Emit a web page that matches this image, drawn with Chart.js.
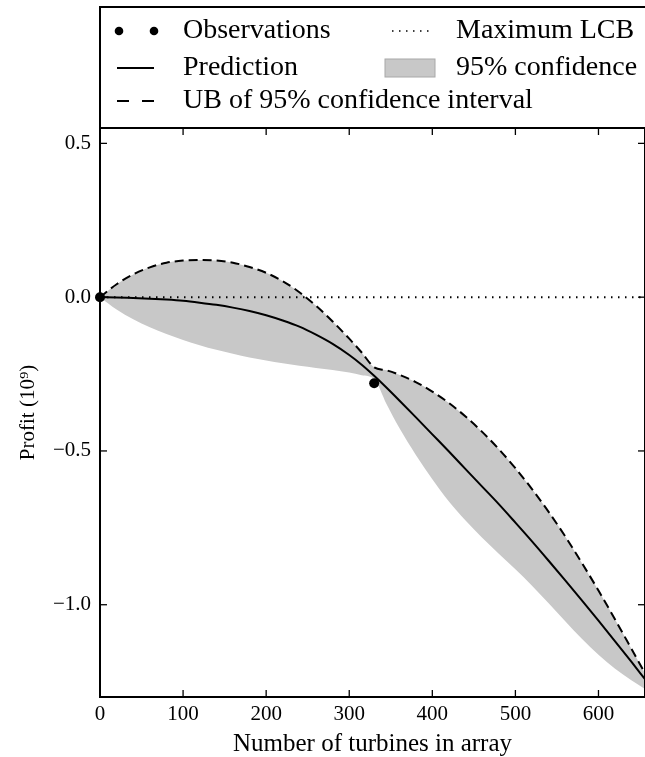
<!DOCTYPE html>
<html>
<head>
<meta charset="utf-8">
<script src="https://cdn.jsdelivr.net/npm/chart.js@4.4.0/dist/chart.umd.min.js"></script>
<style>
  html, body { margin: 0; padding: 0; background: #fff; overflow: hidden; }
  #wrap { position: relative; width: 650px; height: 757px; }
</style>
</head>
<body>
<div id="wrap"><canvas id="chart"></canvas></div>
<script>
// Array size (number of turbines) at which the model was evaluated
const turbines = [0, 20, 40, 60, 80, 100, 120, 140, 160, 180, 200, 220, 240, 260, 280, 300, 315, 330,
                  345, 360, 380, 400, 420, 440, 460, 480, 500, 520, 540, 560, 580, 600, 620, 640, 656];
// Predicted profit (10^9)
const prediction = [0, -0.001, -0.003, -0.005, -0.008, -0.012, -0.018, -0.025, -0.034, -0.045, -0.059,
                    -0.076, -0.096, -0.122, -0.152, -0.188, -0.2195, -0.2555, -0.2945, -0.335, -0.39, -0.446,
                    -0.502, -0.559, -0.616, -0.673, -0.733, -0.794, -0.857, -0.921, -0.986, -1.052, -1.119, -1.187, -1.242];
// Upper bound of the 95% confidence interval
const upperBound = [0, 0.042, 0.074, 0.097, 0.112, 0.119, 0.121, 0.119, 0.112, 0.098, 0.079, 0.052, 0.016,
                    -0.028, -0.079, -0.135, -0.18, -0.228, -0.238, -0.252, -0.276, -0.307, -0.344, -0.388,
                    -0.438, -0.494, -0.556, -0.624, -0.698, -0.778, -0.864, -0.954, -1.048, -1.145, -1.223];
// Lower bound of the 95% confidence interval
const lowerBound = [0, -0.04, -0.072, -0.098, -0.12, -0.139, -0.156, -0.171, -0.184, -0.196, -0.206,
                    -0.215, -0.223, -0.23, -0.237, -0.245, -0.254, -0.266, -0.348, -0.424, -0.512, -0.592,
                    -0.664, -0.726, -0.782, -0.834, -0.885, -0.938, -0.995, -1.054, -1.111, -1.163, -1.208, -1.246, -1.274];
// Observed runs
const obsTurbines = [0, 330];
const obsProfit = [0, -0.28];
// Maximum lower confidence bound
const maxLCB = 0.0;

const xTickValues = [0, 100, 200, 300, 400, 500, 600];
const yTickValues = [-1.0, -0.5, 0.0, 0.5];
const xRange = [0, 656];
const yRange = [-1.3, 0.55];

const legendNames = ['Observations', 'Maximum LCB', 'Prediction', '95% confidence', 'UB of 95% confidence interval'];
const xTitle = 'Number of turbines in array';
const yTitle = 'Profit (10\u2079)';

const SERIF = '"Liberation Serif", "DejaVu Serif", serif';
const BAND = '#c8c8c8';

const pts = (xs, ys) => xs.map((v, i) => ({ x: v, y: ys[i] }));

// Frame, inward tick marks and the boxed legend above the plot
const frameAndLegend = {
  id: 'frameAndLegend',
  afterDraw(chart) {
    const { ctx, chartArea: a, scales: { x, y } } = chart;
    const seg = (x1, y1, x2, y2) => { ctx.beginPath(); ctx.moveTo(x1, y1); ctx.lineTo(x2, y2); ctx.stroke(); };
    ctx.save();
    ctx.strokeStyle = '#000';
    ctx.lineWidth = 2;
    ctx.strokeRect(a.left, a.top, a.right - a.left, a.bottom - a.top);

    ctx.lineWidth = 1.3;
    const tl = 7;
    x.ticks.forEach(t => {
      const px = x.getPixelForValue(t.value);
      seg(px, a.bottom, px, a.bottom - tl);
      seg(px, a.top, px, a.top + tl);
    });
    y.ticks.forEach(t => {
      const py = y.getPixelForValue(t.value);
      seg(a.left, py, a.left + tl, py);
      seg(a.right, py, a.right - tl, py);
    });

    // legend box
    ctx.lineWidth = 2;
    ctx.strokeRect(a.left, 7, chart.width + 10, a.top - 7);

    const rows = [31, 68, 101];
    const c1 = { m0: 117, m1: 154, t: 183 };
    const c2 = { m0: 385, m1: 435, t: 456 };
    ctx.font = '28px ' + SERIF;
    ctx.fillStyle = '#000';
    ctx.textBaseline = 'middle';
    ctx.textAlign = 'left';

    // Observations
    ctx.beginPath(); ctx.arc(119, rows[0], 4.3, 0, Math.PI * 2); ctx.fill();
    ctx.beginPath(); ctx.arc(154, rows[0], 4.3, 0, Math.PI * 2); ctx.fill();
    ctx.fillText(legendNames[0], c1.t, rows[0]);
    // Maximum LCB
    ctx.lineWidth = 1.6;
    ctx.setLineDash([1.5, 5.5]);
    seg(392, rows[0], 430, rows[0]);
    ctx.setLineDash([]);
    ctx.fillText(legendNames[1], c2.t, rows[0]);
    // Prediction
    ctx.lineWidth = 2;
    seg(c1.m0, rows[1], c1.m1, rows[1]);
    ctx.fillText(legendNames[2], c1.t, rows[1]);
    // 95% confidence
    ctx.fillStyle = BAND;
    ctx.fillRect(c2.m0, rows[1] - 9, c2.m1 - c2.m0, 18);
    ctx.strokeStyle = '#a8a8a8';
    ctx.lineWidth = 1;
    ctx.strokeRect(c2.m0, rows[1] - 9, c2.m1 - c2.m0, 18);
    ctx.fillStyle = '#000';
    ctx.strokeStyle = '#000';
    ctx.fillText(legendNames[3], c2.t, rows[1]);
    // UB
    ctx.lineWidth = 2;
    ctx.setLineDash([12, 13]);
    seg(c1.m0, rows[2], c1.m1, rows[2]);
    ctx.setLineDash([]);
    ctx.fillText(legendNames[4], c1.t, rows[2]);
    ctx.restore();
  }
};

new Chart(document.getElementById('chart'), {
  type: 'line',
  data: {
    datasets: [
      {
        label: 'Observations',
        data: pts(obsTurbines, obsProfit),
        showLine: false,
        pointRadius: 5,
        pointBackgroundColor: '#000',
        pointBorderWidth: 0,
        clip: false,
        order: 0
      },
      {
        label: 'Prediction',
        data: pts(turbines, prediction),
        borderColor: '#000',
        borderWidth: 2,
        pointRadius: 0,
        cubicInterpolationMode: 'monotone',
        fill: false,
        order: 1
      },
      {
        label: 'Maximum LCB',
        data: pts(xRange, [maxLCB, maxLCB]),
        borderColor: '#000',
        borderWidth: 2,
        borderDash: [1.5, 5.5],
        pointRadius: 0,
        fill: false,
        order: 2
      },
      {
        label: 'UB of 95% confidence interval',
        data: pts(turbines, upperBound),
        borderColor: '#000',
        borderWidth: 2,
        borderDash: [9, 5],
        backgroundColor: BAND,
        pointRadius: 0,
        cubicInterpolationMode: 'monotone',
        fill: '+1',
        order: 3
      },
      {
        label: '95% confidence',
        data: pts(turbines, lowerBound),
        borderWidth: 0,
        borderColor: 'rgba(0,0,0,0)',
        pointRadius: 0,
        cubicInterpolationMode: 'monotone',
        fill: false,
        order: 4
      }
    ]
  },
  options: {
    responsive: true,
    maintainAspectRatio: false,
    devicePixelRatio: 1,
    animation: false,
    layout: { padding: { top: 128, right: 3, left: 0, bottom: 0 } },
    plugins: {
      legend: { display: false },
      tooltip: { enabled: false },
      filler: { drawTime: 'beforeDatasetsDraw' }
    },
    scales: {
      x: {
        type: 'linear',
        min: xRange[0],
        max: xRange[1],
        afterBuildTicks: s => { s.ticks = xTickValues.map(v => ({ value: v })); },
        afterFit: s => { s.height = 60; },
        grid: { display: false, drawTicks: false },
        border: { display: false },
        ticks: {
          color: '#000',
          font: { family: SERIF, size: 21 },
          padding: 5,
          maxRotation: 0,
          callback: v => String(v)
        },
        title: {
          display: true,
          text: xTitle,
          color: '#000',
          font: { family: SERIF, size: 25, lineHeight: 1 },
          padding: { top: 0, bottom: 0 }
        }
      },
      y: {
        type: 'linear',
        min: yRange[0],
        max: yRange[1],
        afterBuildTicks: s => { s.ticks = yTickValues.map(v => ({ value: v })); },
        afterFit: s => { s.width = 100; },
        grid: { display: false, drawTicks: false },
        border: { display: false },
        ticks: {
          color: '#000',
          font: { family: SERIF, size: 21 },
          padding: 9,
          callback: v => (v < 0 ? '\u2212' : '') + Math.abs(v).toFixed(1)
        },
        title: {
          display: true,
          text: yTitle,
          color: '#000',
          font: { family: SERIF, size: 21 },
          padding: { top: 16, bottom: 0 }
        }
      }
    }
  },
  plugins: [frameAndLegend]
});
</script>
</body>
</html>
